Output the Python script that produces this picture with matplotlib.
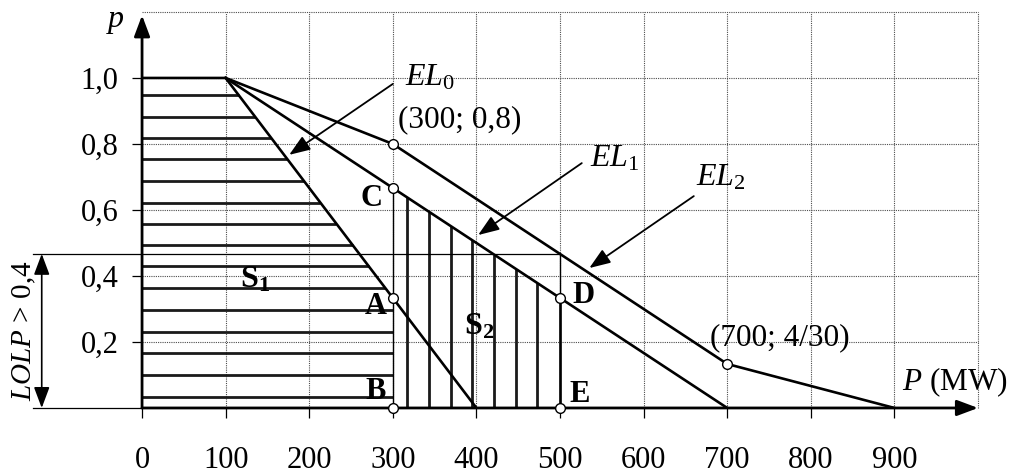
import numpy as np
import matplotlib
matplotlib.use("Agg")
import matplotlib.pyplot as plt

plt.rcParams['font.family'] = ['Liberation Serif', 'DejaVu Serif']
plt.rcParams['mathtext.fontset'] = 'custom'
plt.rcParams['mathtext.rm'] = 'Liberation Serif'
plt.rcParams['mathtext.it'] = 'Liberation Serif:italic'
plt.rcParams['mathtext.bf'] = 'Liberation Serif:bold'

# ---- data ----
x_ticks = [0, 100, 200, 300, 400, 500, 600, 700, 800, 900]
x_tick_labels = ["0", "100", "200", "300", "400", "500", "600", "700", "800", "900"]
y_ticks = [0.2, 0.4, 0.6, 0.8, 1.0]
y_tick_labels = ["0,2", "0,4", "0,6", "0,8", "1,0"]
grid_x = [100, 200, 300, 400, 500, 600, 700, 800, 900, 1000]
grid_y = [0.2, 0.4, 0.6, 0.8, 1.0, 1.2]

el0_x = [0, 100, 400]
el0_p = [1.0, 1.0, 0.0]
el1_x = [100, 700]
el1_p = [1.0, 0.0]
el2_x = [100, 300, 700, 900]
el2_p = [1.0, 0.8, 4 / 30, 0.0]

s1_hatch_p = [0.034, 0.100, 0.166, 0.231, 0.296, 0.363, 0.430, 0.493,
              0.558, 0.622, 0.688, 0.754, 0.818, 0.883, 0.948]
s2_hatch_x = [317, 343, 369, 395, 421, 447, 473, 500]

pts_x = [300, 300, 300, 300, 500, 500, 700]
pts_p = [0.8, 2 / 3, 1 / 3, 0.0, 1 / 3, 0.0, 4 / 30]

lolp_level = 0.467
area_lo, area_hi = 300, 500
lolp_left = -130

# ---- figure ----
fig = plt.figure(figsize=(10.11, 4.75), dpi=100)
ax = fig.add_axes([0.1405, 0.1411, 0.8269, 0.8337])
ax.set_xlim(0, 1000)
ax.set_ylim(0, 1.2)
for s in ax.spines.values():
    s.set_visible(False)

# grid
ax.vlines(grid_x, 0, max(grid_y), colors='0.3', linestyles=(0, (1, 1)), lw=0.8, clip_on=False, zorder=1)
ax.hlines(grid_y, 0, max(grid_x), colors='0.3', linestyles=(0, (1, 1)), lw=0.8, clip_on=False, zorder=1)

# ticks
ax.set_xticks(x_ticks)
ax.set_xticklabels(x_tick_labels, fontsize=22)
ax.set_yticks(y_ticks)
ax.set_yticklabels(y_tick_labels, fontsize=22)
ax.tick_params(axis='x', direction='out', length=7, width=0.9, pad=20.5)
ax.tick_params(axis='y', direction='out', length=7, width=0.9, pad=10)

# axes arrows
ax.annotate('', xy=(1000, 0), xytext=(0, 0), annotation_clip=False,
            arrowprops=dict(arrowstyle='-|>,head_length=0.8,head_width=0.3', lw=2.0,
                            color='k', shrinkA=0, shrinkB=0, mutation_scale=16), zorder=5)
ax.annotate('', xy=(0, 1.19), xytext=(0, 0), annotation_clip=False,
            arrowprops=dict(arrowstyle='-|>,head_length=0.8,head_width=0.3', lw=2.0,
                            color='k', shrinkA=0, shrinkB=0, mutation_scale=16), zorder=5)

# hatching S1
el0_inv = lambda p: np.interp(-p, [-el0_p[1], -el0_p[2]], [el0_x[1], el0_x[2]])
for p in s1_hatch_p:
    xe = min(area_lo, float(el0_inv(p)))
    ax.plot([0, xe], [p, p], color='0.1', lw=2.0, solid_capstyle='butt', zorder=2)

# hatching S2
for x in s2_hatch_x:
    ph = float(np.interp(x, el1_x, el1_p))
    ax.plot([x, x], [0, ph], color='0.1', lw=2.0, solid_capstyle='butt', zorder=2)

# thin construction lines
c_p = float(np.interp(area_lo, el1_x, el1_p))
ax.plot([area_lo, area_lo], [0, c_p], color='k', lw=1.0, zorder=3)
ax.plot([area_hi, area_hi], [0, lolp_level], color='k', lw=1.0, zorder=3)
ax.plot([lolp_left, area_hi], [lolp_level, lolp_level], color='k', lw=0.9, clip_on=False, zorder=3)
ax.plot([lolp_left, 0], [0, 0], color='k', lw=0.9, clip_on=False, zorder=3)

# curves
for xs, ps in ((el0_x, el0_p), (el1_x, el1_p), (el2_x, el2_p)):
    ax.plot(xs, ps, color='k', lw=1.9, zorder=4, solid_joinstyle='miter')

# points
ax.plot(pts_x, pts_p, 'o', ms=7, mfc='white', mec='k', mew=1.0, zorder=6, clip_on=False)

# LOLP arrow
ax.annotate('', xy=(-120, 0), xytext=(-120, lolp_level), annotation_clip=False,
            arrowprops=dict(arrowstyle='<|-|>,head_length=0.8,head_width=0.3', lw=1.2,
                            color='k', shrinkA=0, shrinkB=0, mutation_scale=16))
ax.text(-141, lolp_level / 2, r'$LOLP$ > 0,4', rotation=90, fontsize=21,
        ha='center', va='center', clip_on=False)

# labels
ax.text(-32, 1.17, r'$p$', fontsize=23, ha='center', va='center', clip_on=False)
ax.text(972, 0.078, r'$P$ (MW)', fontsize=22.5, ha='center', va='center', clip_on=False)
ax.text(344, 1.0, r'$EL_0$', fontsize=23, ha='center', va='center')
ax.text(566, 0.755, r'$EL_1$', fontsize=23, ha='center', va='center')
ax.text(692, 0.698, r'$EL_2$', fontsize=23, ha='center', va='center')
ax.text(380, 0.872, '(300; 0,8)', fontsize=22.5, ha='center', va='center')
ax.text(763, 0.212, '(700; 4/30)', fontsize=22.5, ha='center', va='center')

arrow_kw = dict(arrowstyle='-|>,head_length=0.8,head_width=0.3', lw=1.3, color='k',
                shrinkA=0, shrinkB=0, mutation_scale=16)
ax.annotate('', xy=(176, 0.767), xytext=(300, 0.982), arrowprops=arrow_kw)
ax.annotate('', xy=(402, 0.524), xytext=(526, 0.742), arrowprops=arrow_kw)
ax.annotate('', xy=(535, 0.424), xytext=(660, 0.642), arrowprops=arrow_kw)

for lab, lx, lp in (('C', 275, 0.636), ('A', 280, 0.309), ('B', 280, 0.05),
                    ('D', 528, 0.34), ('E', 524, 0.042)):
    ax.text(lx, lp, lab, fontsize=22, fontweight='bold', ha='center', va='center', zorder=7)

ax.text(135, 0.39, r'$\mathbf{S_1}$', fontsize=23, ha='center', va='center', zorder=7)
ax.text(403, 0.245, r'$\mathbf{S_2}$', fontsize=23, ha='center', va='center', zorder=7)

fig.savefig('out.png', dpi=100, facecolor='white')
